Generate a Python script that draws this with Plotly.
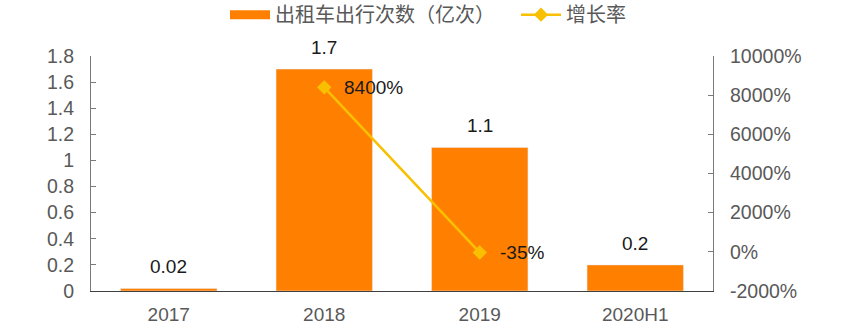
import plotly.graph_objects as go

# Taxi trips per year (100 million trips) and year-over-year growth
years = ["2017", "2018", "2019", "2020H1"]
trips = [0.02, 1.7, 1.1, 0.2]
growth = [None, 8400, -35, None]
trip_labels = ["0.02", "1.7", "1.1", "0.2"]
growth_labels = ["", "8400%", "-35%", ""]

left_ticks = [0, 0.2, 0.4, 0.6, 0.8, 1.0, 1.2, 1.4, 1.6, 1.8]
left_tick_text = ["0", "0.2", "0.4", "0.6", "0.8", "1", "1.2", "1.4", "1.6", "1.8"]
right_ticks = [-2000, 0, 2000, 4000, 6000, 8000, 10000]
right_tick_text = ["-2000%", "0%", "2000%", "4000%", "6000%", "8000%", "10000%"]

BAR = "#FF8000"
LINE = "#F8C000"
GRAY = "#595959"
NUM_FONT = "Liberation Sans, Arial, sans-serif"
CJK_FONT = "Noto Sans CJK SC, sans-serif"

fig = go.Figure()

fig.add_trace(go.Bar(
    x=years, y=trips, marker_color=BAR, width=0.62,
    showlegend=False, hoverinfo="skip",
))
# Legend entry for the bars, drawn as a thick band
fig.add_trace(go.Scatter(
    x=[years[0]], y=[None], mode="lines", line=dict(color=BAR, width=9),
    name="出租车出行次数（亿次）", hoverinfo="skip",
))
fig.add_trace(go.Scatter(
    x=years, y=growth, mode="lines+markers", yaxis="y2",
    line=dict(color=LINE, width=2.5),
    marker=dict(symbol="diamond", size=11, color=LINE),
    name="增长率", connectgaps=False,
))

# Value labels; category positions are given by index so that
# year strings are not read as numbers
annotations = []
for i, (v, t) in enumerate(zip(trips, trip_labels)):
    annotations.append(dict(
        x=i, y=v, xref="x", yref="y", text=t, showarrow=False,
        yanchor="bottom", yshift=9,
        font=dict(family=NUM_FONT, size=19, color="#1a1a1a"),
    ))
for i, (v, t) in enumerate(zip(growth, growth_labels)):
    if v is None:
        continue
    annotations.append(dict(
        x=i, y=v, xref="x", yref="y2", text=t, showarrow=False,
        xanchor="left", yanchor="middle", xshift=18,
        font=dict(family=NUM_FONT, size=19, color="#1a1a1a"),
    ))

fig.update_layout(
    width=846, height=325,
    margin=dict(l=91, r=133, t=56, b=34),
    paper_bgcolor="white", plot_bgcolor="white",
    annotations=annotations,
    legend=dict(
        orientation="h", xref="container", yref="container",
        x=225 / 846, xanchor="left", y=0.955, yanchor="middle",
        font=dict(family=CJK_FONT, size=20, color=GRAY),
        itemwidth=40, tracegroupgap=0,
        entrywidth=236, entrywidthmode="pixels",
    ),
    xaxis=dict(
        type="category", categoryorder="array", categoryarray=years,
        range=[-0.5, len(years) - 0.5], automargin=False,
        showline=True, linecolor="#404040", linewidth=1.2,
        ticks="", showgrid=False,
        tickfont=dict(family=NUM_FONT, size=19, color=GRAY),
        ticklabelstandoff=6,
    ),
    yaxis=dict(
        range=[0, 1.8], tickvals=left_ticks, ticktext=left_tick_text,
        automargin=False,
        showline=True, linecolor="#7a7a7a", linewidth=1.2,
        ticks="inside", ticklen=5, tickcolor="#7a7a7a",
        showgrid=False, zeroline=False,
        tickfont=dict(family=NUM_FONT, size=19.5, color=GRAY),
        ticklabelstandoff=12,
    ),
    yaxis2=dict(
        overlaying="y", side="right", automargin=False,
        range=[-2000, 10000], tickvals=right_ticks, ticktext=right_tick_text,
        showline=True, linecolor="#7a7a7a", linewidth=1.2,
        ticks="inside", ticklen=5, tickcolor="#7a7a7a",
        showgrid=False, zeroline=False,
        tickfont=dict(family=NUM_FONT, size=19.5, color=GRAY),
        ticklabelstandoff=12,
    ),
)

fig.write_html("out.html")
